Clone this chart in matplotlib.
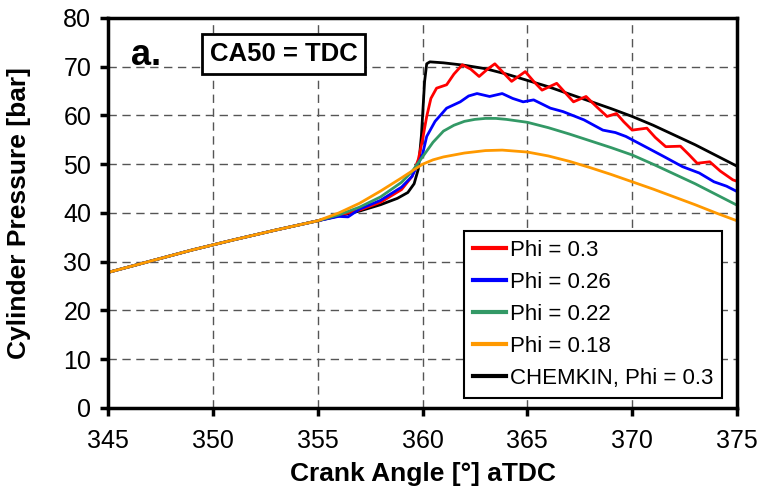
import numpy as np
import matplotlib.pyplot as plt

plt.rcParams['font.family'] = ['Liberation Sans', 'DejaVu Sans']

# shared compression part, 345..355 deg
x_comp = [345, 347, 349, 351, 353, 355]
y_comp = [27.8, 30.1, 32.4, 34.5, 36.5, 38.4]

# Phi = 0.3 (measured)
x_red = [356, 357, 358, 359, 359.5, 359.8, 360.0, 360.2, 360.4, 360.67, 361.15, 361.5,
         361.9, 362.3, 362.7, 363.1, 363.45, 363.85, 364.25, 364.9, 365.3, 365.7, 366.4,
         366.8, 367.2, 367.8, 368.3, 368.8, 369.25, 369.6, 370.0, 370.7, 371.1, 371.6,
         372.3, 372.7, 373.1, 373.7, 374.2, 374.8, 375]
y_red = [39.5, 40.6, 42.2, 44.8, 47.5, 51.0, 55.0, 59.8, 63.5, 65.6, 66.3, 68.5,
         70.4, 69.5, 68.0, 69.5, 70.6, 68.8, 67.0, 69.0, 67.0, 65.2, 66.6,
         64.7, 62.8, 63.9, 61.8, 59.8, 60.4, 58.7, 57.0, 57.4, 55.5, 53.6,
         53.7, 52.0, 50.2, 50.5, 48.6, 46.8, 46.5]

# Phi = 0.26
x_blue = [356, 356.45, 357, 358, 359, 359.5, 360.0, 360.2, 360.6, 361.15, 361.5, 361.8,
          362.2, 362.6, 363.2, 363.8, 364.3, 364.8, 365.3, 366.1, 366.7, 367.7, 368.6,
          369.2, 369.7, 370.8, 371.5, 372.4, 373.2, 373.9, 374.5, 375]
y_blue = [39.3, 39.2, 40.8, 42.6, 45.3, 47.5, 52.0, 55.7, 58.8, 61.5, 62.2, 62.8,
          64.0, 64.5, 63.9, 64.5, 63.5, 62.8, 63.2, 61.5, 60.8, 59.1, 57.0,
          56.5, 55.7, 53.2, 51.6, 49.5, 48.2, 46.4, 45.5, 44.4]

# Phi = 0.22
x_green = [356, 357, 358, 359, 359.5, 360, 360.5, 361, 361.5, 362, 362.5, 363, 363.5,
           364, 365, 366, 367, 368, 369, 370, 371, 372, 373, 374, 375]
y_green = [39.6, 41.2, 43.3, 46.3, 48.5, 51.5, 54.5, 56.8, 58.0, 58.8, 59.2, 59.4, 59.4,
           59.2, 58.6, 57.5, 56.2, 54.8, 53.4, 51.9, 50.0, 48.0, 46.0, 43.8, 41.6]

# Phi = 0.18
x_orange = [356, 357, 358, 359, 359.5, 360, 360.5, 361, 362, 363, 363.8, 365, 366,
            367, 368, 369, 370, 371, 372, 373, 374, 375]
y_orange = [40.0, 42.0, 44.5, 47.2, 48.6, 50.0, 50.9, 51.5, 52.3, 52.8, 52.9, 52.5, 51.7,
            50.6, 49.3, 47.9, 46.4, 44.9, 43.3, 41.7, 40.0, 38.4]

# CHEMKIN, Phi = 0.3
x_black = [356, 357, 358, 358.8, 359.3, 359.6, 359.8, 359.95, 360.1, 360.2, 360.35, 361,
           362, 363, 364, 365, 366, 367, 368, 369, 370, 371, 372, 373, 374, 375]
y_black = [39.4, 40.4, 41.7, 43.0, 44.2, 46.0, 49.0, 56.0, 67.0, 70.6, 71.0, 70.8,
           70.3, 69.6, 68.5, 67.2, 65.9, 64.4, 62.9, 61.4, 59.8, 58.0, 56.0, 54.0, 51.8, 49.6]

labels = ['Phi = 0.3', 'Phi = 0.26', 'Phi = 0.22', 'Phi = 0.18', 'CHEMKIN, Phi = 0.3']

fig = plt.figure(figsize=(7.61, 4.94), dpi=100)
ax = fig.add_axes([0.1419, 0.1741, 0.8266, 0.7895])

series = [
    (x_black, y_black, 'black', labels[4]),
    (x_red, y_red, '#ff0000', labels[0]),
    (x_blue, y_blue, '#0000ff', labels[1]),
    (x_green, y_green, '#339966', labels[2]),
    (x_orange, y_orange, '#ff9900', labels[3]),
]
handles = {}
for xs, ys, c, lab in series:
    h, = ax.plot(x_comp + xs, y_comp + ys, color=c, lw=2, label=lab,
                 solid_joinstyle='round')
    handles[lab] = h

ax.set_xlim(345, 375)
ax.set_ylim(0, 80)
ax.set_xticks(np.arange(345, 376, 5))
ax.set_yticks(np.arange(0, 81, 10))
ax.grid(True, color='#555555', lw=1, dashes=(6, 4))
ax.set_axisbelow(True)
for s in ax.spines.values():
    s.set_linewidth(2.5)
ax.tick_params(direction='out', length=6, width=2.5, labelsize=18)
ax.tick_params(axis='x', pad=9)
ax.tick_params(axis='y', pad=6)

ax.set_xlabel('Crank Angle [°] aTDC', fontsize=19, fontweight='bold')
ax.set_ylabel('Cylinder Pressure [bar]', fontsize=19, fontweight='bold')
ax.xaxis.set_label_coords(0.5, -0.138)
ax.yaxis.set_label_coords(-0.122, 0.5)

ax.text(346.1, 70.4, 'a.', fontsize=26, fontweight='bold', ha='left', va='baseline')
ax.text(353.37, 72.6, 'CA50 = TDC', fontsize=18.5, fontweight='bold', ha='center',
        va='center', bbox=dict(boxstyle='square,pad=0.3', fc='white', ec='black', lw=2))

leg = ax.legend([handles[l] for l in labels], labels, loc='lower right',
                bbox_to_anchor=(0.976, 0.026), fontsize=16, frameon=True, fancybox=False,
                edgecolor='black', framealpha=1, handlelength=1.5, handletextpad=0.15,
                labelspacing=0.5, borderpad=0.4, borderaxespad=0)
leg.get_frame().set_linewidth(1.5)
for h in leg.get_lines():
    h.set_linewidth(3)

fig.savefig('out.png', dpi=100)
